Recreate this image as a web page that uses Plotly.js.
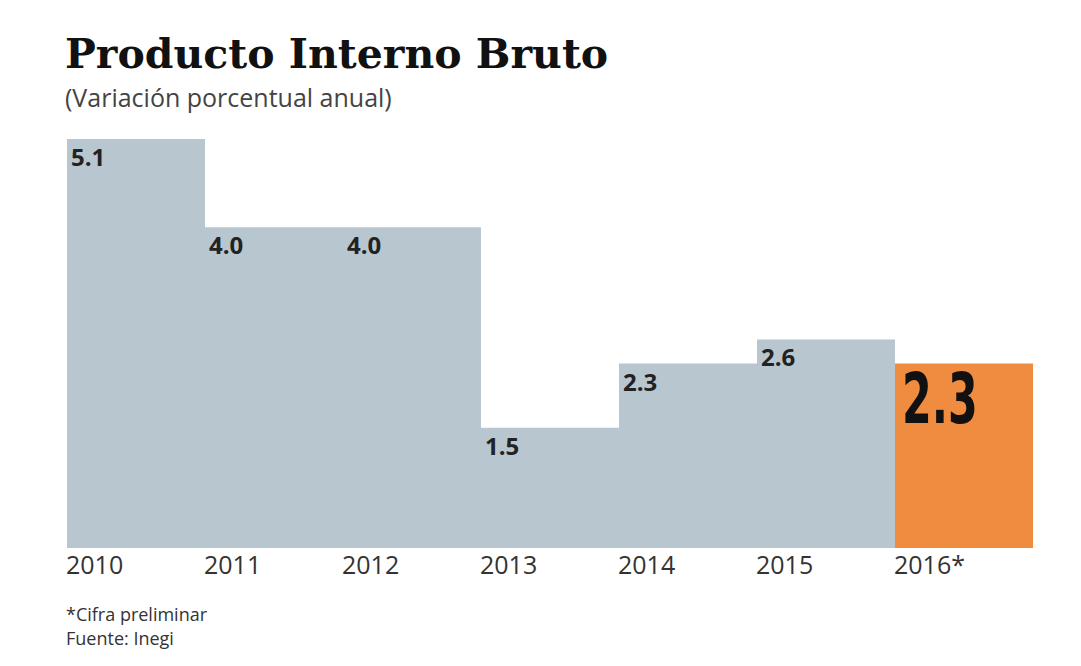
<!DOCTYPE html>
<html><head><meta charset="utf-8">
<script src="https://cdn.plot.ly/plotly-3.0.1.min.js"></script>
<style>html,body{margin:0;padding:0;background:#fff}#c{width:1081px;height:666px}</style>
</head><body><div id="c"></div>
<script>
const years = ["2010","2011","2012","2013","2014","2015","2016*"];
const values = [5.1, 4.0, 4.0, 1.5, 2.3, 2.6, 2.3];
const valueLabels = ["5.1","4.0","4.0","1.5","2.3","2.6","2.3"];
const barColors = ["#b8c6d0","#b8c6d0","#b8c6d0","#b8c6d0","#b8c6d0","#b8c6d0","#f08c40"];
const notes = ["*Cifra preliminar","Fuente: Inegi"];

const xs = years.map((_, i) => i + 0.5);
const ann = [];
years.forEach((y, i) => {
  ann.push({x: i, y: 0, xref:'x', yref:'y', text: y, showarrow:false, xanchor:'left', yanchor:'top',
    yshift:3, xshift:-3, font:{family:'Open Sans, sans-serif', size:25, color:'#333'}});
  const last = i === years.length - 1;
  ann.push({x: i, y: values[i], xref:'x', yref:'y', text: '<b>'+valueLabels[i]+'</b>',
    showarrow:false, xanchor:'left', yanchor:'top',
    xshift: last ? 5 : 2, yshift: last ? 8 : 1,
    font: last ? {family:'DejaVu Sans Condensed, DejaVu Sans, sans-serif', size:70, color:'#111'}
               : {family:'Open Sans, sans-serif', size:24, color:'#222'}});
});
notes.forEach((n, k) => {
  ann.push({x:0, y:0, xref:'paper', yref:'paper', xanchor:'left', yanchor:'top', yshift:-52 - k*23.5, xshift:-3, showarrow:false,
    align:'left', text:n, font:{family:'Open Sans, sans-serif', size:18, color:'#333'}});
});
ann.push({x:0, y:1, xref:'paper', yref:'paper', xanchor:'left', yanchor:'bottom', yshift:59, xshift:-4, showarrow:false,
  text:'<b>Producto Interno Bruto</b>', font:{family:'DejaVu Serif, serif', size:41, color:'#111'}});
ann.push({x:0, y:1, xref:'paper', yref:'paper', xanchor:'left', yanchor:'bottom', yshift:23, xshift:-4, showarrow:false,
  text:'(Variación porcentual anual)', font:{family:'Open Sans, sans-serif', size:25, color:'#444'}});

Plotly.newPlot('c', [{
  type:'bar', x: xs, y: values, width: 1, marker:{color: barColors, line:{width:0}}, hoverinfo:'skip'
}], {
  width:1081, height:666,
  margin:{l:67, r:48, t:139, b:118},
  paper_bgcolor:'#fff', plot_bgcolor:'#fff',
  showlegend:false,
  xaxis:{range:[0,7], showgrid:false, zeroline:false, showticklabels:false, showline:false, fixedrange:true},
  yaxis:{range:[0,5.1], showgrid:false, zeroline:false, showticklabels:false, showline:false, fixedrange:true},
  annotations: ann
}, {staticPlot:true}).then(() => {
  // condense the big highlight number horizontally
  document.querySelectorAll('.annotation-text').forEach(t => {
    if (parseFloat(t.style.fontSize) >= 60) {
      const bb = t.getBBox();
      const x0 = bb.x;
      t.setAttribute('transform', 'translate(' + x0 + ',0) scale(0.68,1) translate(' + (-x0) + ',0)');
    }
  });
});
</script></body></html>
